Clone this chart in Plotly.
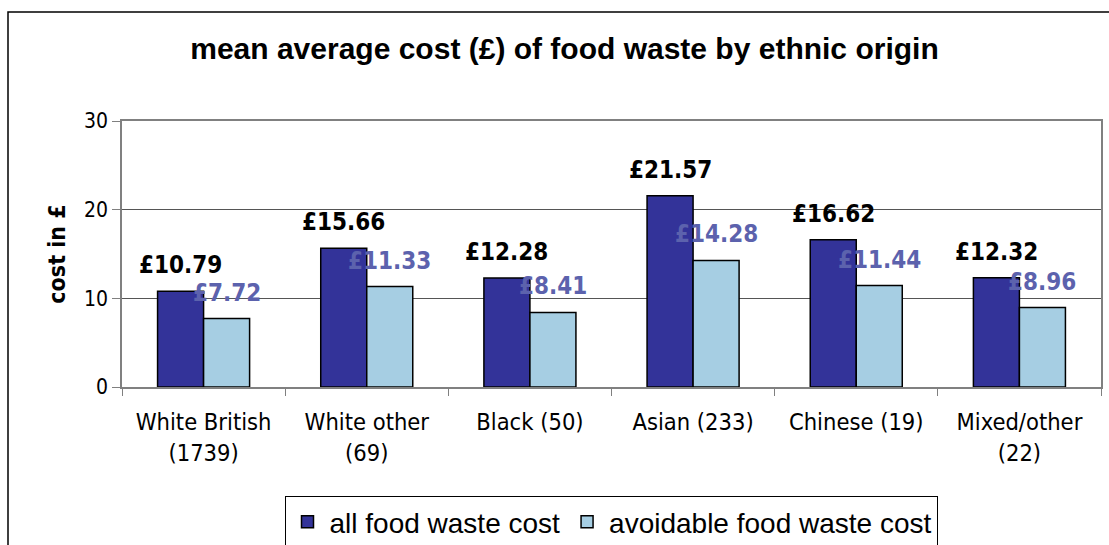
import plotly.graph_objects as go

categories = ["White British<br>(1739)", "White other<br>(69)", "Black (50)",
              "Asian (233)", "Chinese (19)", "Mixed/other<br>(22)"]
all_cost = [10.79, 15.66, 12.28, 21.57, 16.62, 12.32]
avoidable_cost = [7.72, 11.33, 8.41, 14.28, 11.44, 8.96]
series_names = ["all food waste cost", "avoidable food waste cost"]
y_ticks = [0, 10, 20, 30]

COND = "DejaVu Sans Condensed, DejaVu Sans"

fig = go.Figure()
fig.add_trace(go.Bar(x=categories, y=all_cost, name=series_names[0],
                     marker=dict(color="#333399", line=dict(color="black", width=1.5))))
fig.add_trace(go.Bar(x=categories, y=avoidable_cost, name=series_names[1],
                     marker=dict(color="#A6CEE3", line=dict(color="black", width=1.5))))

annotations = []
for c, v in zip(categories, all_cost):
    annotations.append(dict(x=c, y=v, xref="x", yref="y", text=f"£{v:.2f}",
                            showarrow=False, xshift=-23, yshift=10, yanchor="bottom",
                            font=dict(family=COND, size=24, color="black", weight="bold")))
for c, v in zip(categories, avoidable_cost):
    annotations.append(dict(x=c, y=v, xref="x", yref="y", text=f"£{v:.2f}",
                            showarrow=False, xshift=23, yshift=10, yanchor="bottom",
                            font=dict(family=COND, size=24, color="#5C62AD", weight="bold")))

fig.update_layout(
    width=1109, height=545,
    margin=dict(l=122, r=8, t=121, b=158, autoexpand=False),
    paper_bgcolor="white", plot_bgcolor="white",
    barmode="group", bargap=0.436, bargroupgap=0,
    title=dict(text="mean average cost (£) of food waste by ethnic origin",
               x=0.509, xanchor="center", y=1 - 48 / 545, yanchor="middle",
               font=dict(family="Liberation Sans", size=30, color="black", weight="bold")),
    font=dict(family=COND, size=23, color="black"),
    xaxis=dict(showline=True, linecolor="#808080", linewidth=1.5, mirror=True,
               ticks="outside", tickson="boundaries", ticklen=7, tickcolor="#808080",
               tickfont=dict(family=COND, size=23.5, color="black"),
               ticklabelstandoff=13, automargin=False),
    yaxis=dict(range=[0, 30], tickvals=y_ticks, showline=True, linecolor="#808080",
               linewidth=1.5, mirror=True, ticks="outside", ticklen=8, tickcolor="#808080",
               showgrid=True, gridcolor="#555555", gridwidth=1, zeroline=False,
               tickfont=dict(family=COND, size=21, color="black"), automargin=False,
               title=dict(text="cost in £", standoff=12,
                          font=dict(family=COND, size=23, color="black", weight="bold"))),
    legend=dict(orientation="h", x=(611 - 122) / 979, xanchor="center",
                y=(387 - 496) / 266, yanchor="top",
                bordercolor="black", borderwidth=1, bgcolor="white",
                font=dict(family="Liberation Sans", size=28, color="black"),
                itemwidth=34, tracegroupgap=0),
    annotations=annotations,
    shapes=[dict(type="rect", xref="paper", yref="paper",
                 x0=(8 - 122) / 979, x1=(1125 - 122) / 979,
                 y0=(387 - 560) / 266, y1=(387 - 12) / 266,
                 line=dict(color="black", width=1.5), fillcolor="rgba(0,0,0,0)", layer="below")],
)

fig.write_html("out.html", config={"displayModeBar": False},
               post_script="document.body.style.margin='0';document.body.style.overflow='hidden';")
